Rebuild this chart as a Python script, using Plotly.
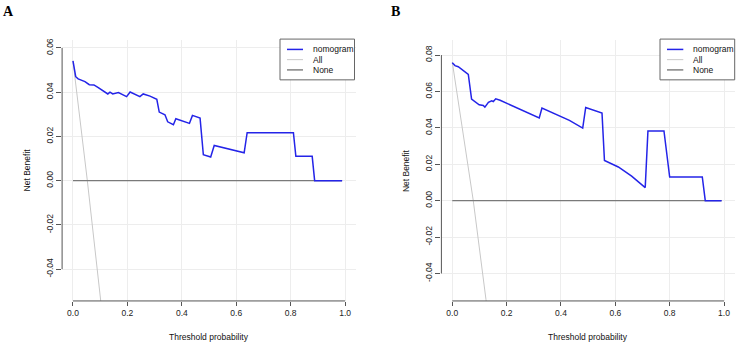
import plotly.graph_objects as go

# ---------------- data ----------------
# Panel A
a_thr = [0, 0.01, 0.019, 0.044, 0.06, 0.077, 0.093, 0.112, 0.128, 0.136, 0.146, 0.167, 0.181,
         0.197, 0.21, 0.228, 0.246, 0.258, 0.283, 0.308, 0.317, 0.338, 0.348, 0.369, 0.378,
         0.428, 0.439, 0.467, 0.479, 0.506, 0.519, 0.629, 0.64, 0.81, 0.819, 0.879, 0.888, 0.989]
a_nomogram = [0.0542, 0.047, 0.046, 0.0448, 0.0434, 0.0433, 0.0421, 0.0406, 0.0392, 0.040, 0.0392,
              0.0398, 0.0391, 0.038, 0.0401, 0.0391, 0.038, 0.0392, 0.0382, 0.0368, 0.031, 0.0298,
              0.0266, 0.0253, 0.028, 0.0259, 0.0295, 0.0283, 0.0117, 0.0107, 0.0159, 0.0126,
              0.0217, 0.0217, 0.011, 0.011, 0.0, 0.0]
a_all_thr = [0, 0.0527, 0.102, 0.105]
a_all = [0.054, 0.0, -0.0544, -0.058]
a_none_thr = [0, 0.989]
a_none = [0, 0]

# Panel B
b_thr = [0, 0.01, 0.022, 0.059, 0.071, 0.084, 0.099, 0.114, 0.12, 0.133, 0.145, 0.151, 0.16,
         0.176, 0.237, 0.32, 0.33, 0.372, 0.431, 0.48, 0.491, 0.551, 0.56, 0.611, 0.66, 0.71,
         0.72, 0.779, 0.8, 0.92, 0.931, 0.991]
b_nomogram = [0.0758, 0.0742, 0.0736, 0.0694, 0.0558, 0.0545, 0.0527, 0.0523, 0.0514, 0.054,
              0.0549, 0.0545, 0.056, 0.0552, 0.0512, 0.0454, 0.0509, 0.0481, 0.0441, 0.0399,
              0.0512, 0.0481, 0.0221, 0.0185, 0.0135, 0.0072, 0.0383, 0.0383, 0.013, 0.013,
              0.0, 0.0]
b_all_thr = [0, 0.0773, 0.124, 0.127]
b_all = [0.0762, 0.0, -0.0543, -0.058]
b_none_thr = [0, 0.991]
b_none = [0, 0]

x_ticks = [0, 0.2, 0.4, 0.6, 0.8, 1.0]
x_ticktext = ["0.0", "0.2", "0.4", "0.6", "0.8", "1.0"]
a_y_ticks = [-0.04, -0.02, 0.0, 0.02, 0.04, 0.06]
a_y_ticktext = ["-0.04", "-0.02", "0.00", "0.02", "0.04", "0.06"]
b_y_ticks = [-0.04, -0.02, 0.0, 0.02, 0.04, 0.06, 0.08]
b_y_ticktext = ["-0.04", "-0.02", "0.00", "0.02", "0.04", "0.06", "0.08"]

legend_labels = ["nomogram", "All", "None"]

# ---------------- style ----------------
W, H = 737, 344
FONT = "Liberation Sans, Arial, sans-serif"
C_NOMO = "#2424E8"
C_ALL = "#C8C8C8"
C_NONE = "#7A7A7A"
C_AXIS = "#555555"
GRID = "#EDEDED"
W_NOMO = 1.5


def px(xp):
    return xp / W


def py(yp):
    return 1 - yp / H


fig = go.Figure()

# panel A traces
fig.add_trace(go.Scatter(x=a_all_thr, y=a_all, mode="lines", line=dict(color=C_ALL, width=1),
                         xaxis="x", yaxis="y", showlegend=False))
fig.add_trace(go.Scatter(x=a_none_thr, y=a_none, mode="lines", line=dict(color=C_NONE, width=1.4),
                         xaxis="x", yaxis="y", showlegend=False))
fig.add_trace(go.Scatter(x=a_thr, y=a_nomogram, mode="lines", line=dict(color=C_NOMO, width=W_NOMO),
                         xaxis="x", yaxis="y", showlegend=False))
# panel B traces
fig.add_trace(go.Scatter(x=b_all_thr, y=b_all, mode="lines", line=dict(color=C_ALL, width=1),
                         xaxis="x2", yaxis="y2", showlegend=False))
fig.add_trace(go.Scatter(x=b_none_thr, y=b_none, mode="lines", line=dict(color=C_NONE, width=1.4),
                         xaxis="x2", yaxis="y2", showlegend=False))
fig.add_trace(go.Scatter(x=b_thr, y=b_nomogram, mode="lines", line=dict(color=C_NOMO, width=W_NOMO),
                         xaxis="x2", yaxis="y2", showlegend=False))

tickfont = dict(family=FONT, size=8.5, color="#222222")


def xaxis_cfg(domain):
    return dict(domain=domain, range=[-0.04, 1.04], showgrid=True, gridcolor=GRID, gridwidth=1,
                zeroline=False, showline=False, ticks="outside", ticklen=4, tickcolor=C_AXIS,
                tickwidth=1, tickvals=x_ticks, ticktext=x_ticktext, tickfont=tickfont,
                fixedrange=True)


def yaxis_cfg(domain, rng, vals, text, anchor):
    return dict(domain=domain, range=rng, showgrid=True, gridcolor=GRID, gridwidth=1,
                zeroline=False, showline=False, ticks="outside", ticklen=5, tickcolor=C_AXIS,
                tickwidth=1, tickvals=vals, ticktext=text, tickfont=tickfont, tickangle=-90,
                anchor=anchor, fixedrange=True)


ydom = [py(300.7), py(38)]
fig.update_layout(
    width=W, height=H, margin=dict(l=0, r=0, t=0, b=0),
    paper_bgcolor="white", plot_bgcolor="white", showlegend=False,
    xaxis=dict(xaxis_cfg([px(62.1), px(356.0)]), anchor="y"),
    yaxis=yaxis_cfg(ydom, [-0.05438, 0.06369], a_y_ticks, a_y_ticktext, "x"),
    xaxis2=dict(xaxis_cfg([px(441.4), px(734.9)]), anchor="y2"),
    yaxis2=yaxis_cfg(ydom, [-0.0551, 0.0884], b_y_ticks, b_y_ticktext, "x2"),
)

shapes = []
annotations = []

# R-style axis lines spanning only first..last tick
for xa, ya, yt in [("x", "y", a_y_ticks), ("x2", "y2", b_y_ticks)]:
    shapes.append(dict(type="line", xref=f"{xa} domain", yref=ya, x0=0, x1=0,
                       y0=yt[0], y1=yt[-1], line=dict(color=C_AXIS, width=1)))
    shapes.append(dict(type="line", xref=xa, yref=f"{ya} domain", x0=x_ticks[0], x1=x_ticks[-1],
                       y0=0, y1=0, line=dict(color=C_AXIS, width=1)))

# axis titles
for xc in [27, 406.7]:
    annotations.append(dict(text="Net Benefit", x=px(xc), y=py(169.4), xref="paper", yref="paper",
                            showarrow=False, textangle=-90, xanchor="center", yanchor="middle",
                            font=dict(family=FONT, size=8.5, color="#111111")))
for xc in [209, 588.2]:
    annotations.append(dict(text="Threshold probability", x=px(xc), y=py(336.7), xref="paper",
                            yref="paper", showarrow=False, xanchor="center", yanchor="middle",
                            font=dict(family=FONT, size=8.5, color="#111111")))

# panel letters
for lab, xc, yc in [("A", 8.5, 9.5), ("B", 395.3, 9.2)]:
    annotations.append(dict(text=f"<b>{lab}</b>", x=px(xc), y=py(yc), xref="paper", yref="paper",
                            showarrow=False, xanchor="center", yanchor="middle",
                            font=dict(family="Liberation Serif, Times New Roman, serif", size=14,
                                      color="#000000")))

# legends (manual, R-style box)
leg_colors = [C_NOMO, C_ALL, C_NONE]
leg_widths = [W_NOMO, 1, 1.4]
for bx0, bx1, lx0, lx1, tx in [(280, 354.5, 287, 303, 310.5), (660, 734.7, 667, 683.3, 690.5)]:
    shapes.append(dict(type="rect", xref="paper", yref="paper", x0=px(bx0), x1=px(bx1),
                       y0=py(78.3), y1=py(37.3), line=dict(color="#666666", width=1),
                       fillcolor="white", layer="above"))
    for i, lab in enumerate(legend_labels):
        yy = 47.7 + i * 10.3
        shapes.append(dict(type="line", xref="paper", yref="paper", x0=px(lx0), x1=px(lx1),
                           y0=py(yy), y1=py(yy), line=dict(color=leg_colors[i], width=leg_widths[i]),
                           layer="above"))
        annotations.append(dict(text=lab, x=px(tx), y=py(yy), xref="paper", yref="paper",
                                showarrow=False, xanchor="left", yanchor="middle",
                                font=dict(family=FONT, size=8.5, color="#111111")))

fig.update_layout(shapes=shapes, annotations=annotations)
fig.write_html("out.html")
